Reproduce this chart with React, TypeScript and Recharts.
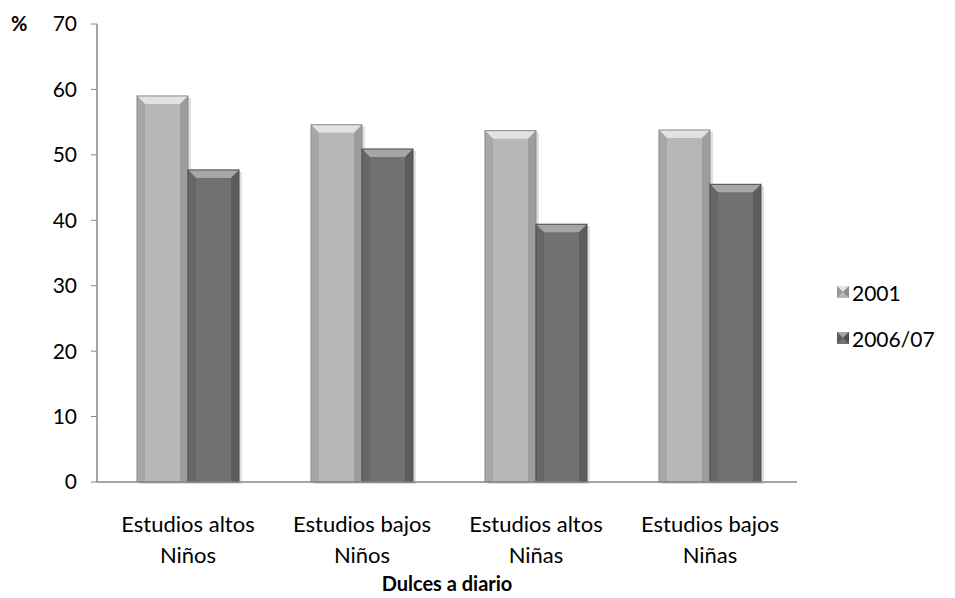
import React from 'react';
import { BarChart, Bar, XAxis, YAxis } from 'recharts';

const categories = ['Estudios altos|Niños', 'Estudios bajos|Niños', 'Estudios altos|Niñas', 'Estudios bajos|Niñas'];
const series2001 = [59.0, 54.6, 53.7, 53.8];
const series2006 = [47.7, 50.9, 39.4, 45.5];
const yTicks = [0, 10, 20, 30, 40, 50, 60, 70];
const seriesNames = ['2001', '2006/07'];

const data = categories.map((c, i) => ({ name: c, a: series2001[i], b: series2006[i] }));

const FONT = 'Lato, "Open Sans", sans-serif';

const palettes = {
  light: { main: '#b7b7b7', top: '#e2e2e2', edgeL: '#9a9a9a', edgeR: '#8c8c8c', line: '#8a8a8a' },
  dark: { main: '#717171', top: '#a6a6a6', edgeL: '#5e5e5e', edgeR: '#4f4f4f', line: '#4a4a4a' },
};

const makeShape = (pal: typeof palettes.light) => (props: any) => {
  const { x, y, width, height } = props;
  if (!height || height <= 0) return <g />;
  const b = 8;
  return (
    <g>
      <rect x={x + 3} y={y + 2} width={width} height={height} fill="rgba(0,0,0,0.12)" />
      <rect x={x} y={y} width={width} height={height} fill={pal.main} />
      <polygon points={`${x},${y} ${x + width},${y} ${x + width - b},${y + b} ${x + b},${y + b}`} fill={pal.top} />
      <polygon points={`${x},${y} ${x + b},${y + b} ${x + b},${y + height} ${x},${y + height}`} fill={pal.edgeL} opacity={0.55} />
      <polygon points={`${x + width},${y} ${x + width - b},${y + b} ${x + width - b},${y + height} ${x + width},${y + height}`} fill={pal.edgeR} opacity={0.6} />
      <rect x={x} y={y} width={width} height={height} fill="none" stroke={pal.line} strokeWidth={1} />
    </g>
  );
};

const XTick = (props: any) => {
  const { x, y, payload } = props;
  const [l1, l2] = String(payload.value).split('|');
  return (
    <g>
      <text x={x} y={y + 42} textAnchor="middle" fontFamily={FONT} fontSize={22} fill="#000">{l1}</text>
      <text x={x} y={y + 73} textAnchor="middle" fontFamily={FONT} fontSize={22} fill="#000">{l2}</text>
    </g>
  );
};

const LegendIcon = ({ pal }: { pal: typeof palettes.light }) => (
  <svg width={12} height={12} style={{ marginRight: 3 }}>
    <rect x={0} y={0} width={12} height={12} fill={pal.main} />
    <polygon points="0,0 12,0 6,6" fill={pal.top} />
    <polygon points="0,0 6,6 0,12" fill={pal.edgeL} />
    <polygon points="12,0 6,6 12,12" fill={pal.edgeR} />
  </svg>
);

export default function App() {
  return (
    <div style={{ position: 'absolute', left: 0, top: 0, width: 955, height: 598, background: '#fff', fontFamily: FONT }}>
      <BarChart
        width={955}
        height={598}
        data={data}
        margin={{ top: 24, right: 158, bottom: 0, left: 0 }}
        barGap={0}
      >
        <XAxis
          dataKey="name"
          tick={<XTick />}
          tickLine={false}
          height={116}
          padding={{ left: 4, right: 0 }}
          axisLine={{ stroke: '#868686', strokeWidth: 1.5 }}
          interval={0}
        />
        <YAxis
          domain={[0, 70]}
          ticks={yTicks}
          width={97}
          tickSize={6}
          tickMargin={14}
          tick={{ fontFamily: FONT, fontSize: 21, fill: '#000' }}
          tickLine={{ stroke: '#868686' }}
          axisLine={{ stroke: '#868686', strokeWidth: 1.5 }}
        />
        <Bar dataKey="a" name={seriesNames[0]} barSize={51} isAnimationActive={false} shape={makeShape(palettes.light)} />
        <Bar dataKey="b" name={seriesNames[1]} barSize={51} isAnimationActive={false} shape={makeShape(palettes.dark)} />
      </BarChart>
      <div style={{ position: 'absolute', left: 11, top: 11, fontSize: 20, fontWeight: 700 }}>%</div>
      <div style={{ position: 'absolute', left: 297, width: 300, textAlign: 'center', top: 571, fontSize: 20, fontWeight: 700 }}>Dulces a diario</div>
      <div style={{ position: 'absolute', left: 837, top: 279, fontSize: 21 }}>
        <div style={{ display: 'flex', alignItems: 'center', height: 26 }}>
          <LegendIcon pal={palettes.light} />
          <span>{seriesNames[0]}</span>
        </div>
        <div style={{ display: 'flex', alignItems: 'center', height: 26, marginTop: 20 }}>
          <LegendIcon pal={palettes.dark} />
          <span>{seriesNames[1]}</span>
        </div>
      </div>
    </div>
  );
}
